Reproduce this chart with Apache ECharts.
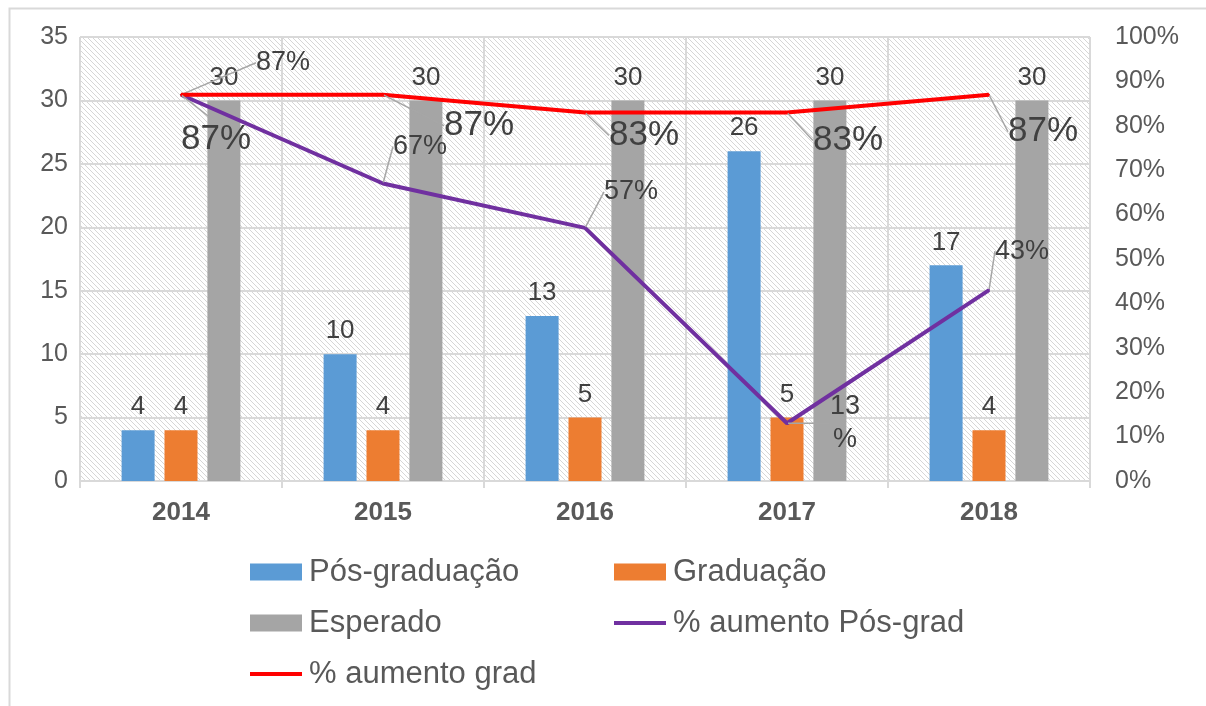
<!DOCTYPE html>
<html>
<head>
    <meta charset="utf-8">
    <title>Pós-graduação x Graduação</title>
    <script src="https://cdn.jsdelivr.net/npm/echarts@6/dist/echarts.min.js"></script>
    <style>
        html, body { margin: 0; padding: 0; background: #fff; }
    </style>
</head>
<body>
<div id="main" style="width: 1206px;height:706px;"></div>

<script type="text/javascript">
    // dados
    let anos = ['2014', '2015', '2016', '2017', '2018'];
    let posGraduacao = [4, 10, 13, 26, 17];
    let graduacao = [4, 4, 5, 5, 4];
    let esperado = [30, 30, 30, 30, 30];
    let aumentoPosGrad = [87, 67, 57, 13, 43];
    let aumentoGrad = [87, 87, 83, 83, 87];

    // deslocamento dos rótulos das linhas (centro do rótulo em relação ao ponto)
    let offsetPosGrad = [[102, -32], [37, -37], [46, -36], [58, 0], [33, -39]];
    let offsetGrad = [[35, 45], [96, 31], [59, 23], [61, 28], [54, 37]];

    let fonte = "'Liberation Sans', Arial, sans-serif";

    // padrão hachurado do fundo
    let tile = document.createElement('canvas');
    tile.width = 5;
    tile.height = 5;
    let ctx = tile.getContext('2d');
    ctx.fillStyle = '#ffffff';
    ctx.fillRect(0, 0, 5, 5);
    ctx.strokeStyle = '#d6d6d6';
    ctx.lineWidth = 1;
    ctx.beginPath();
    ctx.moveTo(-1, -1); ctx.lineTo(6, 6);
    ctx.moveTo(-1, 4); ctx.lineTo(1, 6);
    ctx.moveTo(4, -1); ctx.lineTo(6, 1);
    ctx.stroke();

    let myChart = echarts.init(document.getElementById('main'));

    let labelBarra = {
        show: true,
        position: 'top',
        distance: 10,
        fontSize: 26,
        color: '#404040',
        fontFamily: fonte
    };

    let iconeLinha = 'path://M0,0L52,0L52,4L0,4Z';
    let textoLegenda = { fontSize: 31, color: '#595959', lineHeight: 34, padding: [0, 0, 0, 2], fontFamily: fonte };

    let option = {
        animation: false,
        backgroundColor: '#fff',
        textStyle: { fontFamily: fonte },
        graphic: [{
            type: 'rect',
            left: 7,
            top: 6,
            shape: { width: 1198, height: 720 },
            style: { fill: 'none', stroke: '#d9d9d9', lineWidth: 2 },
            silent: true
        }],
        grid: {
            show: true,
            left: 80,
            right: 116,
            top: 37,
            bottom: 225,
            backgroundColor: { image: tile, repeat: 'repeat' },
            borderWidth: 0
        },
        legend: [{
            orient: 'vertical',
            left: 250,
            top: 555,
            padding: 0,
            itemWidth: 52,
            itemHeight: 17,
            itemGap: 17,
            data: [
                { name: 'Pós-graduação', icon: 'rect' },
                { name: 'Esperado', icon: 'rect' },
                { name: '% aumento grad', icon: iconeLinha }
            ],
            textStyle: textoLegenda
        }, {
            orient: 'vertical',
            left: 614,
            top: 555,
            padding: 0,
            itemWidth: 52,
            itemHeight: 17,
            itemGap: 17,
            data: [
                { name: 'Graduação', icon: 'rect' },
                { name: '% aumento Pós-grad', icon: iconeLinha }
            ],
            textStyle: textoLegenda
        }],
        xAxis: {
            type: 'category',
            data: anos,
            axisLine: { lineStyle: { color: '#d9d9d9', width: 2 } },
            axisTick: { show: true, length: 7, lineStyle: { color: '#d9d9d9', width: 2 } },
            splitLine: { show: true, lineStyle: { color: '#d9d9d9', width: 2 } },
            axisLabel: {
                fontSize: 26,
                fontWeight: 'bold',
                color: '#595959',
                margin: 19,
                fontFamily: fonte
            }
        },
        yAxis: [{
            type: 'value',
            min: 0,
            max: 35,
            interval: 5,
            axisLine: { show: false },
            axisTick: { show: false },
            splitLine: { lineStyle: { color: '#d9d9d9', width: 2 } },
            axisLabel: { fontSize: 25, color: '#595959', margin: 12, fontFamily: fonte }
        }, {
            type: 'value',
            min: 0,
            max: 100,
            interval: 10,
            axisLine: { show: false },
            axisTick: { show: false },
            splitLine: { show: false },
            axisLabel: {
                formatter: '{value}%',
                fontSize: 25,
                color: '#595959',
                margin: 25,
                fontFamily: fonte
            }
        }],
        series: [
            {
                name: 'Pós-graduação',
                type: 'bar',
                data: posGraduacao,
                barWidth: 33,
                barGap: '30%',
                itemStyle: { color: '#5B9BD5' },
                label: labelBarra
            },
            {
                name: 'Graduação',
                type: 'bar',
                data: graduacao,
                barWidth: 33,
                barGap: '30%',
                itemStyle: { color: '#ED7D31' },
                label: labelBarra
            },
            {
                name: 'Esperado',
                type: 'bar',
                data: esperado,
                barWidth: 33,
                barGap: '30%',
                itemStyle: { color: '#A5A5A5' },
                label: labelBarra
            },
            {
                name: '% aumento Pós-grad',
                type: 'line',
                yAxisIndex: 1,
                data: aumentoPosGrad,
                symbol: 'circle',
                symbolSize: 2,
                itemStyle: { color: '#7030A0' },
                lineStyle: { color: '#7030A0', width: 4 },
                z: 5,
                label: {
                    show: true,
                    position: 'inside',
                    fontSize: 27,
                    lineHeight: 33,
                    color: '#404040',
                    fontFamily: fonte,
                    formatter: function (p) {
                        return p.dataIndex === 3 ? p.value + '\n%' : p.value + '%';
                    }
                },
                labelLine: { show: true, lineStyle: { color: '#a6a6a6', width: 1.5 } },
                labelLayout: function (p) {
                    return { dx: offsetPosGrad[p.dataIndex][0], dy: offsetPosGrad[p.dataIndex][1] };
                }
            },
            {
                name: '% aumento grad',
                type: 'line',
                yAxisIndex: 1,
                data: aumentoGrad,
                symbol: 'circle',
                symbolSize: 2,
                itemStyle: { color: '#FF0000' },
                lineStyle: { color: '#FF0000', width: 4 },
                z: 6,
                label: {
                    show: true,
                    position: 'inside',
                    fontSize: 35,
                    color: '#404040',
                    fontFamily: fonte,
                    formatter: '{c}%'
                },
                labelLine: { show: true, lineStyle: { color: '#a6a6a6', width: 1.5 } },
                labelLayout: function (p) {
                    return { dx: offsetGrad[p.dataIndex][0], dy: offsetGrad[p.dataIndex][1] };
                }
            }
        ]
    };
    myChart.setOption(option);
</script>
</body>
</html>
